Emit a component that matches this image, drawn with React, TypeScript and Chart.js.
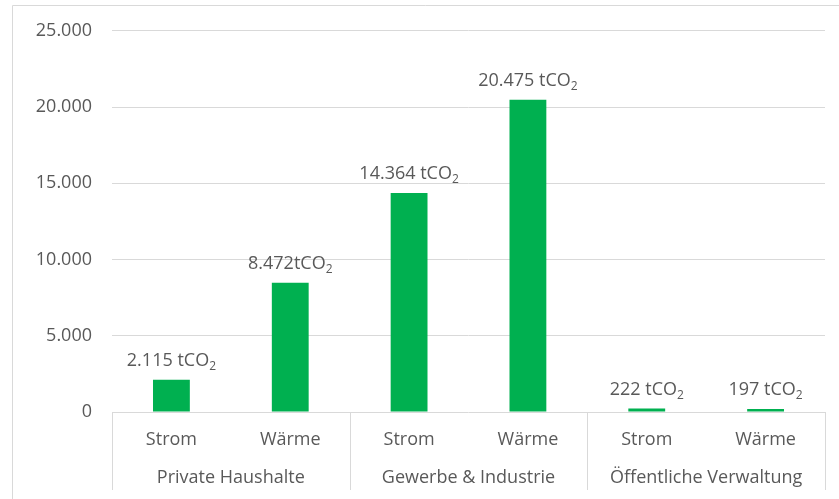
import React, { useEffect, useRef } from "react";
import { Chart, registerables } from "chart.js";

Chart.register(...registerables);

const categories = ["Strom", "Wärme", "Strom", "Wärme", "Strom", "Wärme"];
const groups = ["Private Haushalte", "Gewerbe & Industrie", "Öffentliche Verwaltung"];
const values = [2115, 8472, 14364, 20475, 222, 197];
const valueLabels = ["2.115 tCO", "8.472tCO", "14.364 tCO", "20.475 tCO", "222 tCO", "197 tCO"];
const labelSubscript = "2";
const yTicks = [0, 5000, 10000, 15000, 20000, 25000];

const FONT = "'Open Sans', 'Noto Sans', sans-serif";
const TEXT = "#595959";
const GRID = "#d9d9d9";
const GREEN = "#00B050";

const fmtDE = (n: number) => String(n).replace(/\B(?=(\d{3})+(?!\d))/g, ".");

const decorPlugin = {
  id: "decor",
  afterDatasetsDraw(chart: any) {
    const ctx = chart.ctx;
    const meta = chart.getDatasetMeta(0);
    ctx.save();
    ctx.fillStyle = TEXT;
    ctx.textBaseline = "alphabetic";
    meta.data.forEach((bar: any, i: number) => {
      const main = valueLabels[i];
      ctx.font = `18px ${FONT}`;
      const wMain = ctx.measureText(main).width;
      ctx.font = `12px ${FONT}`;
      const wSub = ctx.measureText(labelSubscript).width;
      const total = wMain + wSub;
      const x0 = bar.x - total / 2;
      const y = bar.y - 14;
      ctx.textAlign = "left";
      ctx.font = `18px ${FONT}`;
      ctx.fillText(main, x0, y);
      ctx.font = `12px ${FONT}`;
      ctx.fillText(labelSubscript, x0 + wMain, y + 4);
    });
    ctx.restore();
  },
  afterDraw(chart: any) {
    const ctx = chart.ctx;
    const area = chart.chartArea;
    const x2 = chart.scales.x2;
    ctx.save();
    ctx.strokeStyle = GRID;
    ctx.lineWidth = 1;
    const bounds: number[] = [area.left];
    for (let g = 0; g < groups.length - 1; g++) {
      bounds.push((x2.getPixelForValue(g) + x2.getPixelForValue(g + 1)) / 2);
    }
    bounds.push(area.right);
    ctx.beginPath();
    bounds.forEach((bx) => {
      const px = Math.round(bx) + 0.5;
      ctx.moveTo(px, area.bottom);
      ctx.lineTo(px, 490);
    });
    // outer chart frame
    ctx.moveTo(12.5, chart.height);
    ctx.lineTo(12.5, 5.5);
    ctx.lineTo(chart.width, 5.5);
    ctx.stroke();
    ctx.restore();
  },
};

export default function App() {
  const ref = useRef<HTMLCanvasElement | null>(null);
  useEffect(() => {
    if (!ref.current) return;
    const chart = new Chart(ref.current, {
      type: "bar",
      data: {
        labels: categories,
        datasets: [
          {
            data: values,
            backgroundColor: GREEN,
            borderWidth: 0,
            categoryPercentage: 1,
            barPercentage: 0.31,
          },
        ],
      },
      options: {
        responsive: false,
        animation: false,
        layout: { padding: { top: 30, right: 14, left: 0, bottom: 0 } },
        plugins: { legend: { display: false }, tooltip: { enabled: false } },
        scales: {
          y: {
            min: 0,
            max: 25000,
            afterBuildTicks: (s: any) => {
              s.ticks = yTicks.map((v) => ({ value: v }));
            },
            afterFit: (s: any) => {
              s.width = 112;
            },
            ticks: {
              color: TEXT,
              font: { family: FONT, size: 18 },
              padding: 20,
              callback: (v: any) => fmtDE(Number(v)),
            },
            grid: { color: GRID, drawTicks: false, lineWidth: 1 },
            border: { display: false },
          },
          x: {
            type: "category",
            offset: true,
            afterFit: (s: any) => {
              s.height = 50;
            },
            ticks: {
              color: TEXT,
              font: { family: FONT, size: 18 },
              padding: 17,
              maxRotation: 0,
              autoSkip: false,
            },
            grid: { display: false, drawTicks: false },
            border: { display: false },
          },
          x2: {
            type: "category",
            labels: groups,
            position: "bottom",
            offset: true,
            afterFit: (s: any) => {
              s.height = 37;
            },
            ticks: {
              color: TEXT,
              font: { family: FONT, size: 18 },
              padding: 5,
              maxRotation: 0,
              autoSkip: false,
            },
            grid: { display: false, drawTicks: false },
            border: { display: false },
          },
        },
      },
      plugins: [decorPlugin],
    });
    return () => chart.destroy();
  }, []);
  return (
    <div style={{ position: "absolute", left: 0, top: 0, width: 839, height: 499, background: "#fff" }}>
      <canvas ref={ref} width={839} height={499} />
    </div>
  );
}
